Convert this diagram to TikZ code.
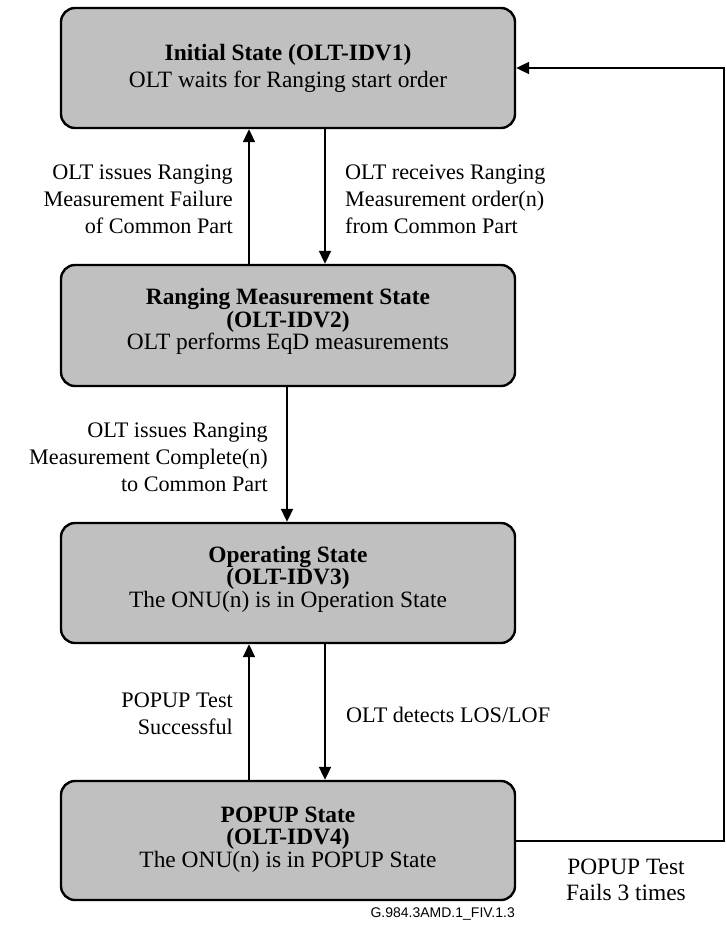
\documentclass[tikz,border=0pt]{standalone}
\usepackage{fontspec}
\setmainfont{Liberation Serif}
\newfontfamily\figsans{Liberation Sans}
\usetikzlibrary{arrows.meta}
\definecolor{boxgray}{RGB}{192,192,192}
\begin{document}
\begin{tikzpicture}[x=1pt,y=-1pt,
  statebox/.style={draw=black, line width=2.4pt, fill=boxgray, rounded corners=14pt,
    minimum width=454pt, minimum height=120pt, inner sep=0pt},
  statetext/.style={inner sep=0pt, align=center,
    font=\fontsize{23.4}{22.5}\selectfont},
  lbl/.style={inner sep=0pt, font=\fontsize{22.2}{27}\selectfont},
  flow/.style={line width=2pt, -{Triangle[length=13pt,width=12pt]}}]

\useasboundingbox (0,0) rectangle (727,929);

% state boxes
\node[statebox] (s1) at (288,68) {};
\node[statebox, minimum height=121pt] (s2) at (288,325.5) {};
\node[statebox] (s3) at (288,583) {};
\node[statebox, minimum height=119pt] (s4) at (288,840.5) {};

% state descriptions
\node[statetext, font=\fontsize{23.4}{27}\selectfont] (s1t) at (s1)
  {\textbf{Initial State (OLT-IDV1)}\\OLT waits for Ranging start order};
\node[statetext, yshift=4pt] (s2t) at (s2)
  {\textbf{Ranging Measurement State}\\\textbf{(OLT-IDV2)}\\OLT performs EqD measurements};
\node[statetext, yshift=4pt] (s3t) at (s3)
  {\textbf{Operating State}\\\textbf{(OLT-IDV3)}\\The ONU(n) is in Operation State};
\node[statetext, yshift=1pt] (s4t) at (s4)
  {\textbf{POPUP State}\\\textbf{(OLT-IDV4)}\\The ONU(n) is in POPUP State};

% x positions of the vertical connectors
\coordinate (up) at (249,0);
\coordinate (dn) at (325,0);
\coordinate (mid) at (287,0);
\coordinate (loopx) at (724,0);

% transitions
\draw[flow] (s2.north -| up) -- (s1.south -| up);
\draw[flow] (s1.south -| dn) -- (s2.north -| dn);
\draw[flow] (s2.south -| mid) -- (s3.north -| mid);
\draw[flow] (s4.north -| up) -- (s3.south -| up);
\draw[flow] (s3.south -| dn) -- (s4.north -| dn);
\draw[flow] (s4.east) -- (s4.east -| loopx) -- (s1.east -| loopx) -- (s1.east);

% transition labels
\node[lbl, anchor=east, align=right] (t1) at (233,199)
  {OLT issues Ranging\\Measurement Failure\\of Common Part};
\node[lbl, anchor=west, align=left] (t2) at (345,199)
  {OLT receives Ranging\\Measurement order(n)\\from Common Part};
\node[lbl, anchor=east, align=right] (t3) at (268,457)
  {OLT issues Ranging\\Measurement Complete(n)\\to Common Part};
\node[lbl, anchor=east, align=right] (t4) at (233,714)
  {POPUP Test\\Successful};
\node[lbl, anchor=west, align=left] (t5) at (346,715)
  {OLT detects LOS/LOF};
\node[lbl, align=center, font=\fontsize{23.4}{26.5}\selectfont] (t6) at (626,880)
  {POPUP Test\\Fails 3 times};

% figure reference
\node[inner sep=0pt, anchor=east, font=\figsans\fontsize{14}{16}\selectfont] (ref) at (515,914)
  {G.984.3AMD.1\_FIV.1.3};
\end{tikzpicture}
\end{document}
